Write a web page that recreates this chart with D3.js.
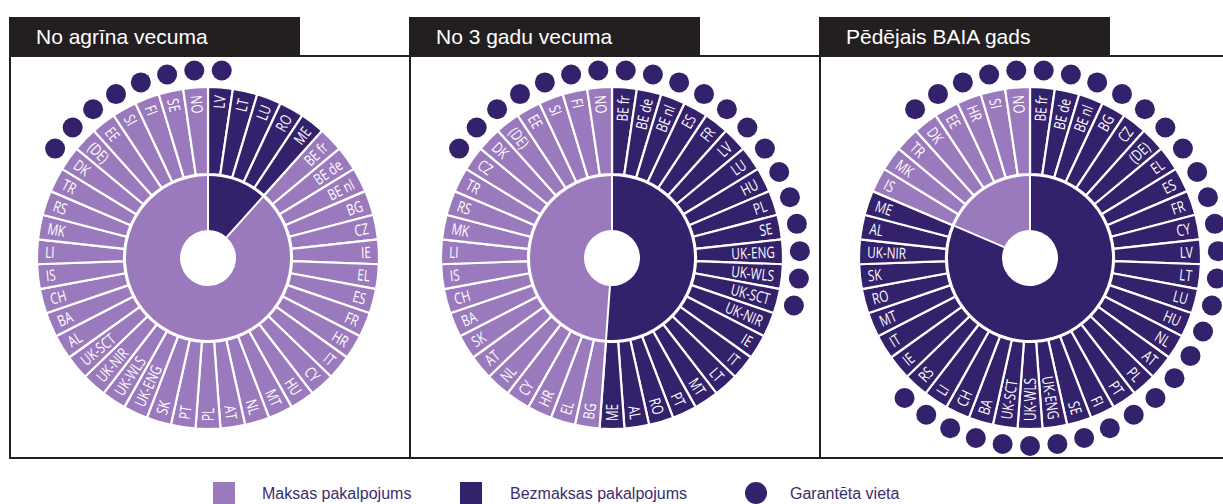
<!DOCTYPE html>
<html>
<head>
<meta charset="utf-8">
<script src="https://cdn.jsdelivr.net/npm/d3@7"></script>
<style>
  body { margin: 0; background: #fff; }
  svg { display: block; }
</style>
</head>
<body>
<script>
// valstis pulksteņrādītāja virzienā no augšas
var titles = ["No agrīna vecuma", "No 3 gadu vecuma", "Pēdējais BAIA gads"];

var order1 = ["LV","LT","LU","RO","ME","BE fr","BE de","BE nl","BG","CZ","IE","EL","ES","FR","HR","IT","CY","HU","MT","NL","AT","PL","PT","SK","UK-ENG","UK-WLS","UK-NIR","UK-SCT","AL","BA","CH","IS","LI","MK","RS","TR","DK","(DE)","EE","SI","FI","SE","NO"];
var free1 = ["LV","LT","LU","RO","ME"];
var guar1 = ["LV","NO","SE","FI","SI","EE","(DE)","DK"];

var order2 = ["BE fr","BE de","BE nl","ES","FR","LV","LU","HU","PL","SE","UK-ENG","UK-WLS","UK-SCT","UK-NIR","IE","IT","LT","MT","PT","RO","AL","ME","BG","EL","HR","CY","NL","AT","SK","BA","CH","IS","LI","MK","RS","TR","CZ","DK","(DE)","EE","SI","FI","NO"];
var free2 = ["BE fr","BE de","BE nl","ES","FR","LV","LU","HU","PL","SE","UK-ENG","UK-WLS","UK-SCT","UK-NIR","IE","IT","LT","MT","PT","RO","AL","ME"];
var guar2 = ["BE fr","BE de","BE nl","ES","FR","LV","LU","HU","PL","SE","UK-ENG","UK-WLS","UK-SCT","NO","FI","SI","EE","(DE)","DK","CZ"];

var order3 = ["BE fr","BE de","BE nl","BG","CZ","(DE)","EL","ES","FR","CY","LV","LT","LU","HU","NL","AT","PL","PT","FI","SE","UK-ENG","UK-WLS","UK-SCT","BA","CH","LI","RS","IE","IT","MT","RO","SK","UK-NIR","AL","ME","IS","MK","TR","DK","EE","HR","SI","NO"];
var free3 = ["BE fr","BE de","BE nl","BG","CZ","(DE)","EL","ES","FR","CY","LV","LT","LU","HU","NL","AT","PL","PT","FI","SE","UK-ENG","UK-WLS","UK-SCT","BA","CH","LI","RS","IE","IT","MT","RO","SK","UK-NIR","AL","ME"];
var guar3 = ["BE fr","BE de","BE nl","BG","CZ","(DE)","EL","ES","FR","CY","LV","LT","LU","HU","NL","AT","PL","PT","FI","SE","UK-ENG","UK-WLS","UK-SCT","BA","CH","LI","RS","NO","SI","HR","EE","DK"];

var legendLabels = ["Maksas pakalpojums", "Bezmaksas pakalpojums", "Garantēta vieta"];

var panels = [
  {title: titles[0], order: order1, free: free1, guar: guar1},
  {title: titles[1], order: order2, free: free2, guar: guar2},
  {title: titles[2], order: order3, free: free3, guar: guar3}
];

var width = 1223, height = 504;
var light = "#9a7abd", dark = "#34216c";

var svg = d3.select("body").append("svg")
    .attr("width", width)
    .attr("height", height);

var panelX = [10, 410, 820];
var panelCx = [208, 612, 1030];
var rHole = 28, rInner = 82, rOuter0 = 84, rOuter = 171, rDot = 188;

panels.forEach(function(p, pi) {
  var x0 = panelX[pi];
  var x1 = pi < 2 ? panelX[pi + 1] : width + 5;
  var cx = panelCx[pi], cy = 258;

  // rāmis
  svg.append("rect")
    .attr("x", x0).attr("y", 56)
    .attr("width", x1 - x0).attr("height", 402)
    .attr("fill", "none").attr("stroke", "#231f20").attr("stroke-width", 2);

  svg.append("rect")
    .attr("x", x0 - 1).attr("y", 17)
    .attr("width", 291).attr("height", 39)
    .attr("fill", "#231f20");
  svg.append("text")
    .attr("x", x0 + 26).attr("y", 44)
    .attr("fill", "#fff")
    .style("font-family", "Arial, 'Liberation Sans', sans-serif")
    .style("font-size", "21px")
    .text(p.title);

  var n = p.order.length;
  var angle = d3.scaleBand().domain(p.order).range([0, 2 * Math.PI]);
  var g = svg.append("g").attr("transform", "translate(" + cx + "," + cy + ")");

  // iekšējais gredzens: daļa
  var nFree = p.free.length;
  var split = nFree / n * 2 * Math.PI;
  var innerArc = d3.arc().innerRadius(rHole).outerRadius(rInner);
  g.append("path")
    .attr("d", innerArc({startAngle: 0, endAngle: split}))
    .attr("fill", dark);
  g.append("path")
    .attr("d", innerArc({startAngle: split, endAngle: 2 * Math.PI}))
    .attr("fill", light);
  g.append("line")
    .attr("x1", 0).attr("y1", -rHole).attr("x2", 0).attr("y2", -rInner)
    .attr("stroke", "#fff").attr("stroke-width", 2);
  g.append("line")
    .attr("x1", rHole * Math.sin(split)).attr("y1", -rHole * Math.cos(split))
    .attr("x2", rInner * Math.sin(split)).attr("y2", -rInner * Math.cos(split))
    .attr("stroke", "#fff").attr("stroke-width", 2);

  // ārējais gredzens
  var outerArc = d3.arc().innerRadius(rOuter0).outerRadius(rOuter);
  g.selectAll("path.seg").data(p.order).enter().append("path")
    .attr("class", "seg")
    .attr("d", function(d) {
      return outerArc({startAngle: angle(d), endAngle: angle(d) + angle.bandwidth()});
    })
    .attr("fill", function(d) { return p.free.indexOf(d) >= 0 ? dark : light; })
    .attr("stroke", "#fff").attr("stroke-width", 2.2).attr("stroke-linejoin", "round");

  // uzraksti
  g.selectAll("text.lab").data(p.order).enter().append("text")
    .attr("class", "lab")
    .attr("transform", function(d) {
      var a = (angle(d) + angle.bandwidth() / 2) * 180 / Math.PI;
      if (a < 180) {
        return "rotate(" + (a - 90) + ") translate(" + (rOuter - 8) + ",0) scale(0.76,1)";
      } else {
        return "rotate(" + (a + 90) + ") translate(" + (-(rOuter - 8)) + ",0) scale(0.76,1)";
      }
    })
    .attr("text-anchor", function(d) {
      var a = angle(d) + angle.bandwidth() / 2;
      return a < Math.PI ? "end" : "start";
    })
    .attr("dy", "0.36em")
    .attr("fill", "#fff")
    .style("font-family", "'Open Sans', 'Liberation Sans', sans-serif")
    .style("font-size", "15.5px")
    .text(function(d) { return d; });

  // garantēta vieta
  g.selectAll("circle.dot").data(p.order.filter(function(d) { return p.guar.indexOf(d) >= 0; }))
    .enter().append("circle")
    .attr("class", "dot")
    .attr("cx", function(d) { return rDot * Math.sin(angle(d) + angle.bandwidth() / 2); })
    .attr("cy", function(d) { return -rDot * Math.cos(angle(d) + angle.bandwidth() / 2); })
    .attr("r", 10)
    .attr("fill", dark);
});

// leģenda
var leg = svg.append("g");
var legX = [213, 460, 745];
leg.append("rect").attr("x", legX[0]).attr("y", 482).attr("width", 22).attr("height", 22).attr("fill", light);
leg.append("rect").attr("x", legX[1]).attr("y", 482).attr("width", 22).attr("height", 22).attr("fill", dark);
leg.append("circle").attr("cx", legX[2] + 11).attr("cy", 493).attr("r", 11).attr("fill", dark);
var textX = [262, 510, 790];
legendLabels.forEach(function(t, i) {
  leg.append("text")
    .attr("x", textX[i]).attr("y", 499)
    .attr("fill", "#3b2d6e")
    .style("font-family", "Arial, 'Liberation Sans', sans-serif")
    .style("font-size", "16px")
    .text(t);
});
</script>
</body>
</html>
